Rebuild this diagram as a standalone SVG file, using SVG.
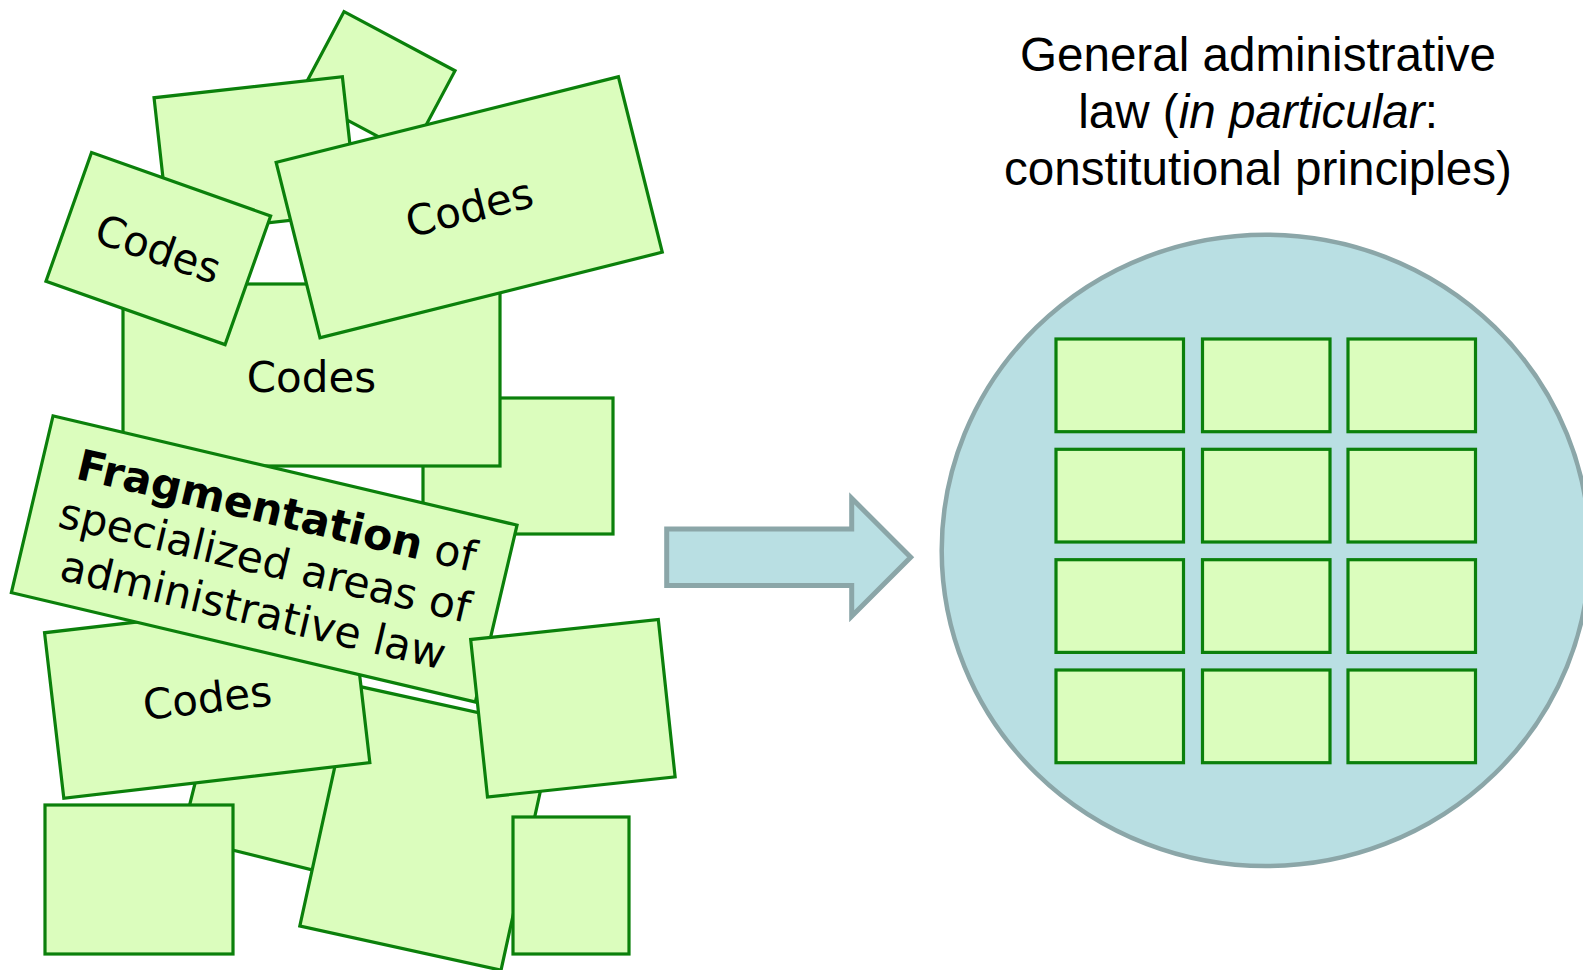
<svg xmlns="http://www.w3.org/2000/svg" width="1583" height="970" viewBox="0 0 1583 970">
<style>
.box{fill:#dbfdbd;stroke:#0b800b;stroke-width:3.2}
.lbl{font-family:"DejaVu Sans",Verdana,sans-serif;font-size:42px;fill:#000;text-anchor:middle}
.frag{font-size:42.6px}
.title{font-family:"Liberation Sans",Arial,sans-serif;font-size:47.6px;fill:#000;text-anchor:middle}
.blue{fill:#b9dfe3;stroke:#8ba6a8}
</style>
<rect width="1583" height="970" fill="#fff"/>
<g id="left-cluster">
<g id="boxA" transform="translate(377.4,82.8) rotate(28)"><rect class="box" x="-62.85" y="-47.1" width="125.7" height="94.2"/></g>
<g id="boxB" transform="translate(255.8,155.3) rotate(-6.36)"><rect class="box" x="-94.75" y="-68.5" width="189.5" height="137"/></g>
<g id="boxD"><rect class="box" x="423" y="398" width="190" height="136"/></g>
<g id="boxC"><rect class="box" x="123" y="284" width="377" height="182"/><text class="lbl" x="311.5" y="392">Codes</text></g>
<g id="boxE" transform="translate(158.3,248.6) rotate(19.5)"><rect class="box" x="-95" y="-68.25" width="190" height="136.5"/><text class="lbl" x="0" y="15">Codes</text></g>
<g id="boxF" transform="translate(469.2,207.3) rotate(-14.04)"><rect class="box" x="-176.4" y="-90.4" width="352.8" height="180.8"/><text class="lbl" x="0" y="15">Codes</text></g>
<g id="boxI" transform="translate(285.8,770.6) rotate(14)"><rect class="box" x="-85" y="-90" width="170" height="180"/></g>
<g id="boxJ" transform="translate(426.9,827.6) rotate(12.4)"><rect class="box" x="-103" y="-123.35" width="206" height="246.7"/></g>
<g id="boxH" transform="translate(207.2,697.7) rotate(-6.64)"><rect class="box" x="-154.05" y="-83.3" width="308.1" height="166.6"/><text class="lbl" x="0" y="15">Codes</text></g>
<g id="boxG" transform="translate(264.2,558.9) rotate(13.26)"><rect class="box" x="-238.35" y="-90.85" width="476.7" height="181.7"/>
<text class="lbl frag" x="1" y="-35"><tspan font-weight="bold">Fragmentation</tspan> of</text>
<text class="lbl frag" x="1" y="16">specialized areas of</text>
<text class="lbl frag" x="1" y="67">administrative law</text></g>
<g id="boxK" transform="translate(572.9,708.2) rotate(-6.1)"><rect class="box" x="-94.35" y="-79.15" width="188.7" height="158.3"/></g>
<g id="boxL"><rect class="box" x="513" y="817" width="116" height="137"/></g>
<g id="boxM"><rect class="box" x="45" y="805" width="188" height="149"/></g>
</g>
<g id="connectors">
<polygon class="blue" stroke-width="5" points="666.7,529 851.7,529 851.7,498.3 910.7,557.3 851.7,616.3 851.7,585.6 666.7,585.6"/>
</g>
<g id="general-law">
<ellipse class="blue" stroke-width="4.5" cx="1265.7" cy="550.4" rx="324" ry="315.7"/>
<g id="grid">
<rect class="box" x="1056" y="339" width="127.5" height="92.7"/>
<rect class="box" x="1202.5" y="339" width="127.5" height="92.7"/>
<rect class="box" x="1348" y="339" width="127.5" height="92.7"/>
<rect class="box" x="1056" y="449.3" width="127.5" height="92.7"/>
<rect class="box" x="1202.5" y="449.3" width="127.5" height="92.7"/>
<rect class="box" x="1348" y="449.3" width="127.5" height="92.7"/>
<rect class="box" x="1056" y="559.7" width="127.5" height="92.7"/>
<rect class="box" x="1202.5" y="559.7" width="127.5" height="92.7"/>
<rect class="box" x="1348" y="559.7" width="127.5" height="92.7"/>
<rect class="box" x="1056" y="670" width="127.5" height="92.7"/>
<rect class="box" x="1202.5" y="670" width="127.5" height="92.7"/>
<rect class="box" x="1348" y="670" width="127.5" height="92.7"/>
</g>
</g>
<g id="title">
<text class="title" x="1258" y="71">General administrative</text>
<text class="title" x="1258" y="128">law (<tspan font-style="italic">in particular</tspan>:</text>
<text class="title" x="1258" y="185">constitutional principles)</text>
</g>
</svg>
